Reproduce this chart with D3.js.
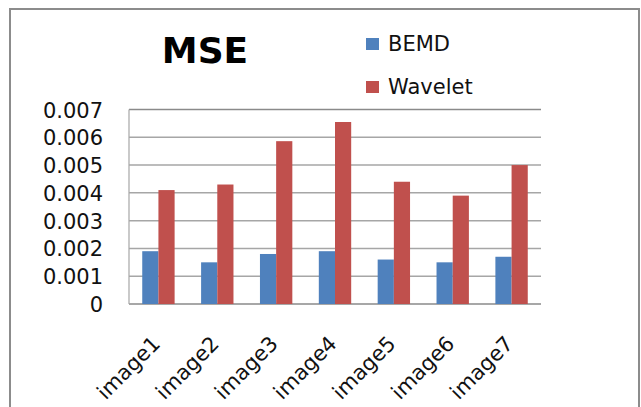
<!DOCTYPE html>
<html>
<head>
<meta charset="utf-8">
<script src="https://cdn.jsdelivr.net/npm/d3@7/dist/d3.min.js"></script>
<style>
  html, body { margin: 0; padding: 0; background: #fff; }
  svg { display: block; }
</style>
</head>
<body>
<svg id="chart" width="641" height="407"></svg>
<script>
const categories = ["image1", "image2", "image3", "image4", "image5", "image6", "image7"];
const seriesNames = ["BEMD", "Wavelet"];
const bemd = [0.0019, 0.0015, 0.0018, 0.0019, 0.0016, 0.0015, 0.0017];
const wavelet = [0.0041, 0.0043, 0.00586, 0.00655, 0.0044, 0.0039, 0.005];
const yTicks = [0, 0.001, 0.002, 0.003, 0.004, 0.005, 0.006, 0.007];
const colors = ["#4F81BD", "#C0504D"];
const title = "MSE";

const svg = d3.select("#chart");
const font = "'DejaVu Sans', sans-serif";

// outer frame
svg.append("rect")
  .attr("x", 10).attr("y", 9).attr("width", 629).attr("height", 420)
  .attr("fill", "#fff").attr("stroke", "#8c8c8c").attr("stroke-width", 2);

const plot = { left: 129, right: 541, top: 109.5, bottom: 304 };

const x = d3.scaleBand().domain(categories)
  .range([plot.left, plot.right]).paddingInner(0.45).paddingOuter(0.225);
const xs = d3.scaleBand().domain(seriesNames).range([0, x.bandwidth()]);
const y = d3.scaleLinear().domain([0, 0.007]).range([plot.bottom, plot.top]);

// gridlines
svg.append("g").selectAll("line").data(yTicks).join("line")
  .attr("x1", plot.left).attr("x2", plot.right)
  .attr("y1", d => y(d)).attr("y2", d => y(d))
  .attr("stroke", (d, i) => (i === 0 || i === yTicks.length - 1) ? "#8a8a8a" : "#a6a6a6")
  .attr("stroke-width", 1.5);

// vertical axis line
svg.append("line")
  .attr("x1", plot.left).attr("x2", plot.left)
  .attr("y1", plot.top).attr("y2", plot.bottom)
  .attr("stroke", "#a6a6a6").attr("stroke-width", 1.2);

// y-axis labels
const yAxis = d3.axisLeft(y).tickValues(yTicks).tickSize(0).tickPadding(0)
  .tickFormat(d => d === 0 ? "0" : d3.format(".3f")(d));
const yg = svg.append("g").attr("transform", `translate(${plot.left - 26},0)`).call(yAxis);
yg.select(".domain").remove();
yg.selectAll("text").attr("font-family", font).attr("font-size", 21).attr("fill", "#111")
  .attr("dy", "0.36em");

// bars
const data = [bemd, wavelet];
const groups = svg.append("g").selectAll("g").data(seriesNames).join("g")
  .attr("fill", (d, i) => colors[i]);
groups.selectAll("rect").data((s, si) => categories.map((c, ci) => ({ c, s, v: data[si][ci] })))
  .join("rect")
  .attr("x", d => x(d.c) + xs(d.s))
  .attr("width", xs.bandwidth())
  .attr("y", d => y(d.v))
  .attr("height", d => y(0) - y(d.v));

// x-axis labels
const xAxis = d3.axisBottom(x).tickSize(0).tickPadding(0);
const xg = svg.append("g").attr("transform", `translate(0,${plot.bottom})`).call(xAxis);
xg.select(".domain").remove();
xg.selectAll("text")
  .attr("font-family", font).attr("font-size", 21).attr("fill", "#111")
  .attr("text-anchor", "end")
  .attr("y", 0).attr("dy", 0)
  .attr("transform", "translate(3,41) rotate(-45)");

// title
svg.append("text").attr("x", 205).attr("y", 63)
  .attr("text-anchor", "middle").attr("font-family", font)
  .attr("font-weight", "bold").attr("font-size", 36).attr("fill", "#000")
  .text(title);

// legend
const lg = svg.append("g").selectAll("g").data(seriesNames).join("g")
  .attr("transform", (d, i) => `translate(366,${38 + i * 43})`);
lg.append("rect").attr("width", 13).attr("height", 12).attr("fill", (d, i) => colors[i]);
lg.append("text").attr("x", 22).attr("y", 13)
  .attr("font-family", font).attr("font-size", 21).attr("fill", "#111")
  .text(d => d);
</script>
</body>
</html>
